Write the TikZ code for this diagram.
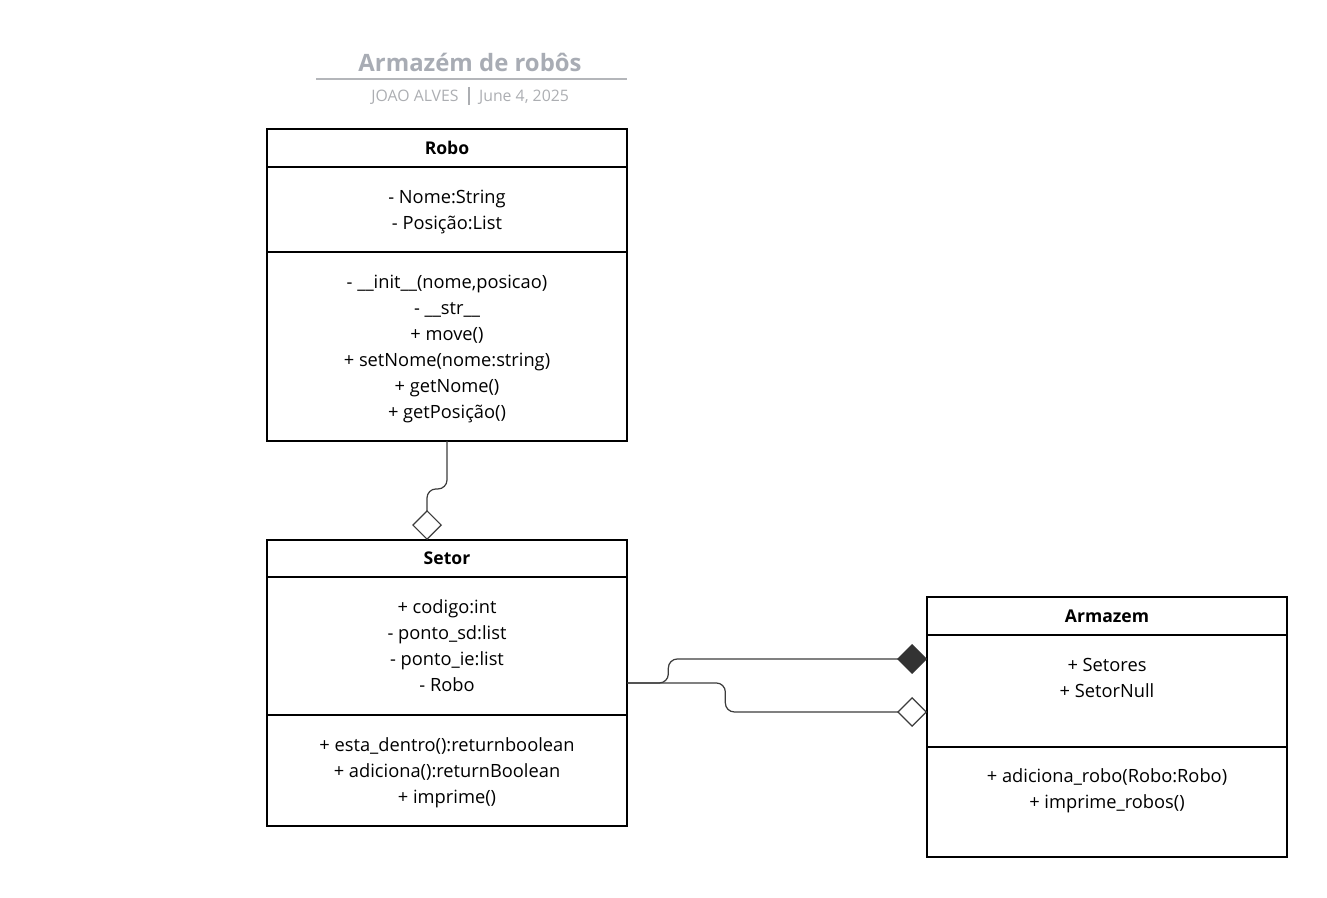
\documentclass[tikz,border=0pt]{standalone}
\usepackage{fontspec}
\setmainfont{Open Sans}
\usepackage{xcolor}
\definecolor{umltitle}{RGB}{168, 172, 180}
\definecolor{umlsub}{RGB}{172, 174, 178}
\definecolor{umlrule}{RGB}{180, 182, 186}
\definecolor{umlline}{RGB}{60, 60, 60}
\definecolor{umlfill}{RGB}{51, 51, 51}
\usetikzlibrary{positioning, arrows.meta, fit}

\begin{document}
\begin{tikzpicture}[x=0.02cm, y=-0.02cm, node distance=0pt,
    font=\fontsize{10.4}{14.8}\selectfont,
    classhead/.style={draw, line width=1.1pt, outer sep=0pt, minimum width=7.2cm,
        minimum height=0.76cm, font=\bfseries},
    classpart/.style={draw, line width=1.1pt, outer sep=0pt, minimum width=7.2cm,
        inner sep=0pt, align=center, text depth=-1pt},
    assoc/.style={umlline, line width=0.7pt, rounded corners=0.18cm},
    agg/.style={-{Diamond[open, length=0.6cm, width=0.6cm, line width=0.7pt]}},
    comp/.style={-{Diamond[umlfill, length=0.6cm, width=0.6cm]}}]

\useasboundingbox (0,0) rectangle (1327,898);

% === Cabecalho ===
\node[font=\bfseries\fontsize{13.6}{16}\selectfont, text=umltitle] (title) at (470,62) {Armazém de robôs};
\draw[umlrule, line width=1.2pt] (316,79) -- (627,79);
\node[font=\fontsize{9}{10}\selectfont, text=umlsub] (author) at (415,97.5) {JOAO ALVES};
\node[font=\fontsize{9}{10}\selectfont, text=umlsub] (date) at (524,97.5) {June 4, 2025};
\draw[umlsub, line width=0.6pt] (469,87) -- (469,105);

% === Classe Robo ===
\node[classhead] (robo) at (447,148) {Robo};
\node[classpart, minimum height=1.7cm, below=of robo] (robo-attr)
    {- Nome:String\\- Posição:List};
\node[classpart, minimum height=3.78cm, below=of robo-attr] (robo-meth)
    {- \_\_init\_\_(nome,posicao)\\- \_\_str\_\_\\+ move()\\+ setNome(nome:string)\\+ getNome()\\+ getPosição()};

% === Classe Setor ===
\node[classhead, minimum height=0.74cm] (setor) at (447,558.5) {Setor};
\node[classpart, minimum height=2.76cm, below=of setor] (setor-attr)
    {+ codigo:int\\- ponto\_sd:list\\- ponto\_ie:list\\- Robo};
\node[classpart, minimum height=2.22cm, below=of setor-attr] (setor-meth)
    {+ esta\_dentro():returnboolean\\+ adiciona():returnBoolean\\+ imprime()};
\node[fit=(setor)(setor-meth), inner sep=0pt] (setor-class) {};

% === Classe Armazem ===
\node[classhead] (armazem) at (1107,616) {Armazem};
\node[classpart, minimum height=2.24cm, below=of armazem] (armazem-attr)
    {+ Setores\\+ SetorNull\\\mbox{}};
\node[classpart, minimum height=2.2cm, below=of armazem-attr] (armazem-meth)
    {+ adiciona\_robo(Robo:Robo)\\+ imprime\_robos()\\\mbox{}};

% === Relacoes ===
% Robo agregado em Setor
\draw[assoc, agg] (robo-meth.south) -- ++(0,48) -| ([xshift=-0.4cm]setor.north);
% Setor compoe Armazem (losango cheio) e agrega (losango vazio)
\draw[assoc, comp] (setor-class.east) -- ++(41,0) |- ([yshift=0.64cm]armazem-attr.west);
\draw[assoc, agg] (setor-class.east) -- ++(98,0) |- ([yshift=-0.42cm]armazem-attr.west);

\end{tikzpicture}
\end{document}
